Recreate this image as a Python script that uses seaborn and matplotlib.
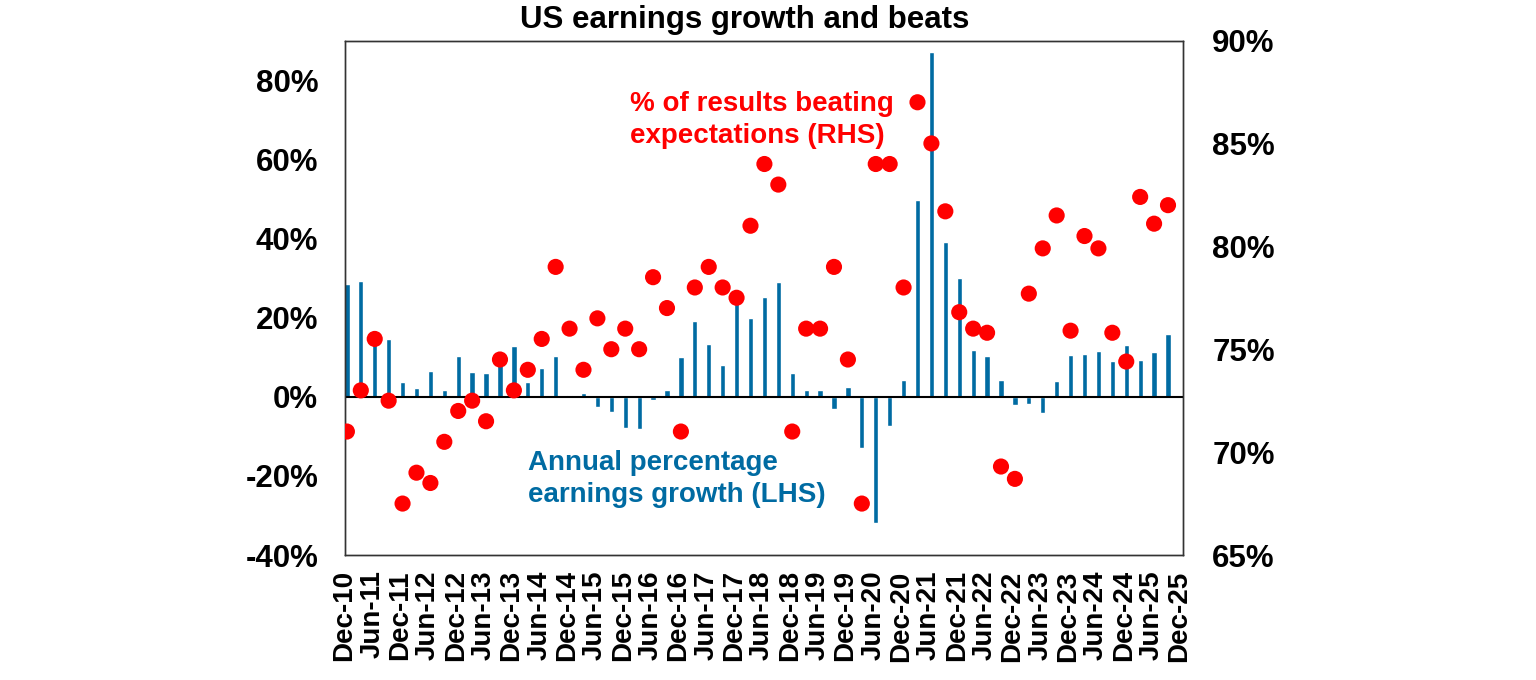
import numpy as np
import pandas as pd
import matplotlib
matplotlib.use('Agg')
import matplotlib.pyplot as plt
import seaborn as sns

# quarterly data, Dec-10 .. Sep-25
quarters = pd.date_range('2010-12-31', '2025-09-30', freq='QE').strftime('%b-%y').tolist()

earnings_growth = [28.5, 29.2, 15.0, 14.5, 3.6, 2.3, 6.5, 1.7, 10.2, 6.2,
                   6.0, 9.0, 12.7, 3.8, 7.3, 10.2, 0.5, 1.0, -2.5, -3.9,
                   -7.8, -8.1, -0.9, 1.75, 10.0, 19.2, 13.2, 8.0, 24.0, 20.0,
                   25.1, 29.0, 5.9, 1.75, 1.7, -3.2, 2.5, -13.0, -32.0, -7.3,
                   4.1, 49.8, 87.0, 39.0, 30.1, 11.8, 10.3, 4.3, -2.0, -1.8,
                   -4.1, 4.0, 10.5, 10.9, 11.6, 8.9, 13.0, 9.4, 11.4, 15.8]

beats_pct = [71.0, 73.0, 75.5, 72.5, 67.5, 69.0, 68.5, 70.5, 72.0, 72.5,
             71.5, 74.5, 73.0, 74.0, 75.5, 79.0, 76.0, 74.0, 76.5, 75.0,
             76.0, 75.0, 78.5, 77.0, 71.0, 78.0, 79.0, 78.0, 77.5, 81.0,
             84.0, 83.0, 71.0, 76.0, 76.0, 79.0, 74.5, 67.5, 84.0, 84.0,
             78.0, 87.0, 85.0, 81.7, 76.8, 76.0, 75.8, 69.3, 68.7, 77.7,
             79.9, 81.5, 75.9, 80.5, 79.9, 75.8, 74.4, 82.4, 81.1, 82.0]

tick_labels = pd.date_range('2010-12-31', '2025-12-31', freq='6ME').strftime('%b-%y').tolist()

left_ticks = [-40, -20, 0, 20, 40, 60, 80]
right_ticks = [65, 70, 75, 80, 85, 90]

df = pd.DataFrame({'quarter': quarters, 'growth': earnings_growth, 'beats': beats_pct})
df['pos'] = np.arange(len(df))

sns.set_style('white')
plt.rcParams['font.family'] = ['Liberation Sans', 'DejaVu Sans']
plt.rcParams['font.weight'] = 'bold'
plt.rcParams['text.color'] = 'black'
plt.rcParams['xtick.color'] = 'black'
plt.rcParams['ytick.color'] = 'black'

blue = '#006BA2'
red = '#FF0000'

fig = plt.figure(figsize=(15.36, 6.8), dpi=100)
ax = fig.add_axes([0.2243, 0.1838, 0.5459, 0.7566])

sns.barplot(data=df, x='quarter', y='growth', color=blue, width=0.38,
            saturation=1, ax=ax)
ax.axhline(0, color='black', lw=1.5, zorder=3)
ax.set_ylim(-40, 90)
ax.set_xlim(-0.17, 60.08)
ax.set_yticks(left_ticks)
ax.set_yticklabels([f'{t}%' for t in left_ticks], fontsize=22.5, fontweight='bold')
ax.set_xticks(np.arange(len(tick_labels)) * 2 - 0.17)
ax.set_xticklabels(tick_labels, rotation=90, fontsize=20, fontweight='bold')
ax.tick_params(axis='x', direction='out', length=8, width=1, color='#333333', pad=3)
ax.tick_params(axis='y', length=0, pad=19)
ax.set_xlabel('')
ax.set_ylabel('')

ax2 = ax.twinx()
sns.scatterplot(data=df, x='pos', y='beats', color=red, s=135, edgecolor='none',
                ax=ax2, zorder=5)
ax2.set_ylim(65, 90)
ax2.set_xlim(-0.17, 60.08)
ax2.set_yticks(right_ticks)
ax2.set_yticklabels([f'{t}%' for t in right_ticks], fontsize=22.5, fontweight='bold')
ax2.tick_params(axis='y', length=0, pad=21)
ax2.set_ylabel('')
ax2.set_xlabel('')

for a in (ax, ax2):
    for s in a.spines.values():
        s.set_color('#333333')
        s.set_linewidth(1)

fig.text(745 / 1536, 1 - 20 / 680, 'US earnings growth and beats', ha='center', va='center',
         fontsize=22.5, fontweight='bold', color='black')
fig.text(630 / 1536, 1 - 120 / 680, '% of results beating\nexpectations (RHS)', ha='left',
         va='center', fontsize=20, fontweight='bold', color=red, linespacing=1.3)
fig.text(528 / 1536, 1 - 479 / 680, 'Annual percentage\nearnings growth (LHS)', ha='left',
         va='center', fontsize=20, fontweight='bold', color=blue, linespacing=1.3)

fig.savefig('out.png', dpi=100)
